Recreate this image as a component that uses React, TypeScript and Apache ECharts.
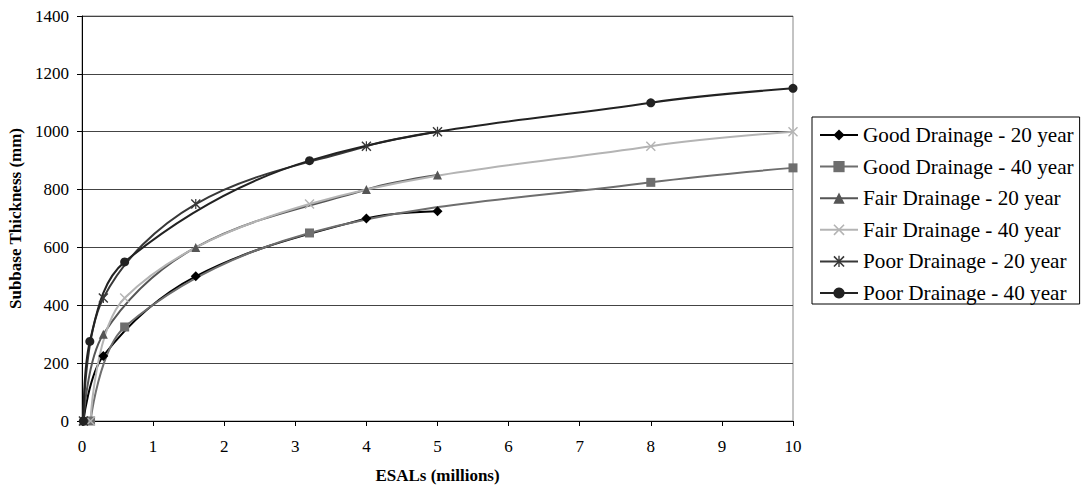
import React, { useEffect, useRef } from "react";
import * as echarts from "echarts";

const seriesNames = [
  "Good Drainage - 20 year",
  "Good Drainage - 40 year",
  "Fair Drainage - 20 year",
  "Fair Drainage - 40 year",
  "Poor Drainage - 20 year",
  "Poor Drainage - 40 year",
];

const good20: [number, number][] = [[0.02, 0], [0.3, 225], [1.6, 500], [4, 700], [5, 725]];
const good40: [number, number][] = [[0.12, 0], [0.6, 325], [3.2, 650], [8, 825], [10, 875]];
const fair20: [number, number][] = [[0.02, 0], [0.3, 300], [1.6, 600], [4, 800], [5, 850]];
const fair40: [number, number][] = [[0.12, 0], [0.6, 425], [3.2, 750], [8, 950], [10, 1000]];
const poor20: [number, number][] = [[0.02, 0], [0.3, 425], [1.6, 750], [4, 950], [5, 1000]];
const poor40: [number, number][] = [[0.02, 0], [0.11, 275], [0.6, 550], [3.2, 900], [8, 1100], [10, 1150]];

const xTicks = [0, 10, 1];
const yTicks = [0, 1400, 200];

const X_PATH = "path://M0,1 L1,0 L10,9 L9,10 Z M9,0 L10,1 L1,10 L0,9 Z";
const STAR_PATH =
  "path://M0,1 L1,0 L10,9 L9,10 Z M9,0 L10,1 L1,10 L0,9 Z M4.4,0 L5.6,0 L5.6,10 L4.4,10 Z";

export default function App() {
  const ref = useRef<HTMLDivElement>(null);
  useEffect(() => {
    if (!ref.current) return;
    const chart = echarts.init(ref.current, undefined, { renderer: "svg" });
    const font = "Liberation Serif";
    const mk = (
      name: string,
      data: [number, number][],
      color: string,
      symbol: string,
      size: number
    ) => ({
      name,
      type: "line",
      data,
      smooth: 0.35,
      symbol,
      symbolSize: size,
      showSymbol: true,
      lineStyle: { color, width: 2 },
      itemStyle: { color },
      emphasis: { disabled: true },
    });
    chart.setOption({
      animation: false,
      textStyle: { fontFamily: font },
      grid: {
        left: 82,
        right: 290,
        top: 16,
        bottom: 64,
        outerBoundsMode: "none",
        containLabel: false,
        show: true,
        borderColor: "#888",
        borderWidth: 1,
      },
      legend: {
        orient: "vertical",
        left: 812,
        top: 117,
        padding: [7, 6, 0, 7],
        borderColor: "#000",
        borderWidth: 1,
        itemWidth: 38,
        itemHeight: 14,
        itemGap: 9.6,
        textStyle: { fontFamily: font, fontSize: 21.2, color: "#000", lineHeight: 22 },
        data: seriesNames,
      },
      xAxis: {
        type: "value",
        min: xTicks[0],
        max: xTicks[1],
        interval: xTicks[2],
        name: "ESALs (millions)",
        nameLocation: "middle",
        nameGap: 46,
        nameTextStyle: { fontFamily: font, fontSize: 17, fontWeight: "bold", color: "#000" },
        axisLine: { lineStyle: { color: "#000", width: 1 } },
        axisTick: { show: true, inside: false, length: 5, lineStyle: { color: "#000" } },
        axisLabel: { fontFamily: font, fontSize: 17, color: "#000", margin: 17, formatter: (v: number) => String(v) },
        splitLine: { show: false },
      },
      yAxis: {
        type: "value",
        min: yTicks[0],
        max: yTicks[1],
        interval: yTicks[2],
        name: "Subbase Thickness (mm)",
        nameLocation: "middle",
        nameRotate: 90,
        nameGap: 54,
        nameTextStyle: { fontFamily: font, fontSize: 17, fontWeight: "bold", color: "#000" },
        axisLine: { show: true, lineStyle: { color: "#000", width: 1 } },
        axisTick: { show: true, inside: false, length: 5, lineStyle: { color: "#000" } },
        axisLabel: { fontFamily: font, fontSize: 17, color: "#000", margin: 13, formatter: (v: number) => String(v) },
        splitLine: { show: true, lineStyle: { color: "#444", width: 1 } },
      },
      series: [
        mk(seriesNames[0], good20, "#000000", "diamond", 10),
        mk(seriesNames[1], good40, "#6e6e6e", "rect", 9),
        mk(seriesNames[2], fair20, "#555555", "triangle", 9),
        mk(seriesNames[3], fair40, "#b4b4b4", X_PATH, 10),
        mk(seriesNames[4], poor20, "#383838", STAR_PATH, 10),
        mk(seriesNames[5], poor40, "#222222", "circle", 9),
      ],
    });
    return () => chart.dispose();
  }, []);
  return (
    <div
      ref={ref}
      style={{ position: "absolute", left: 0, top: 0, width: 1083, height: 485 }}
    />
  );
}
